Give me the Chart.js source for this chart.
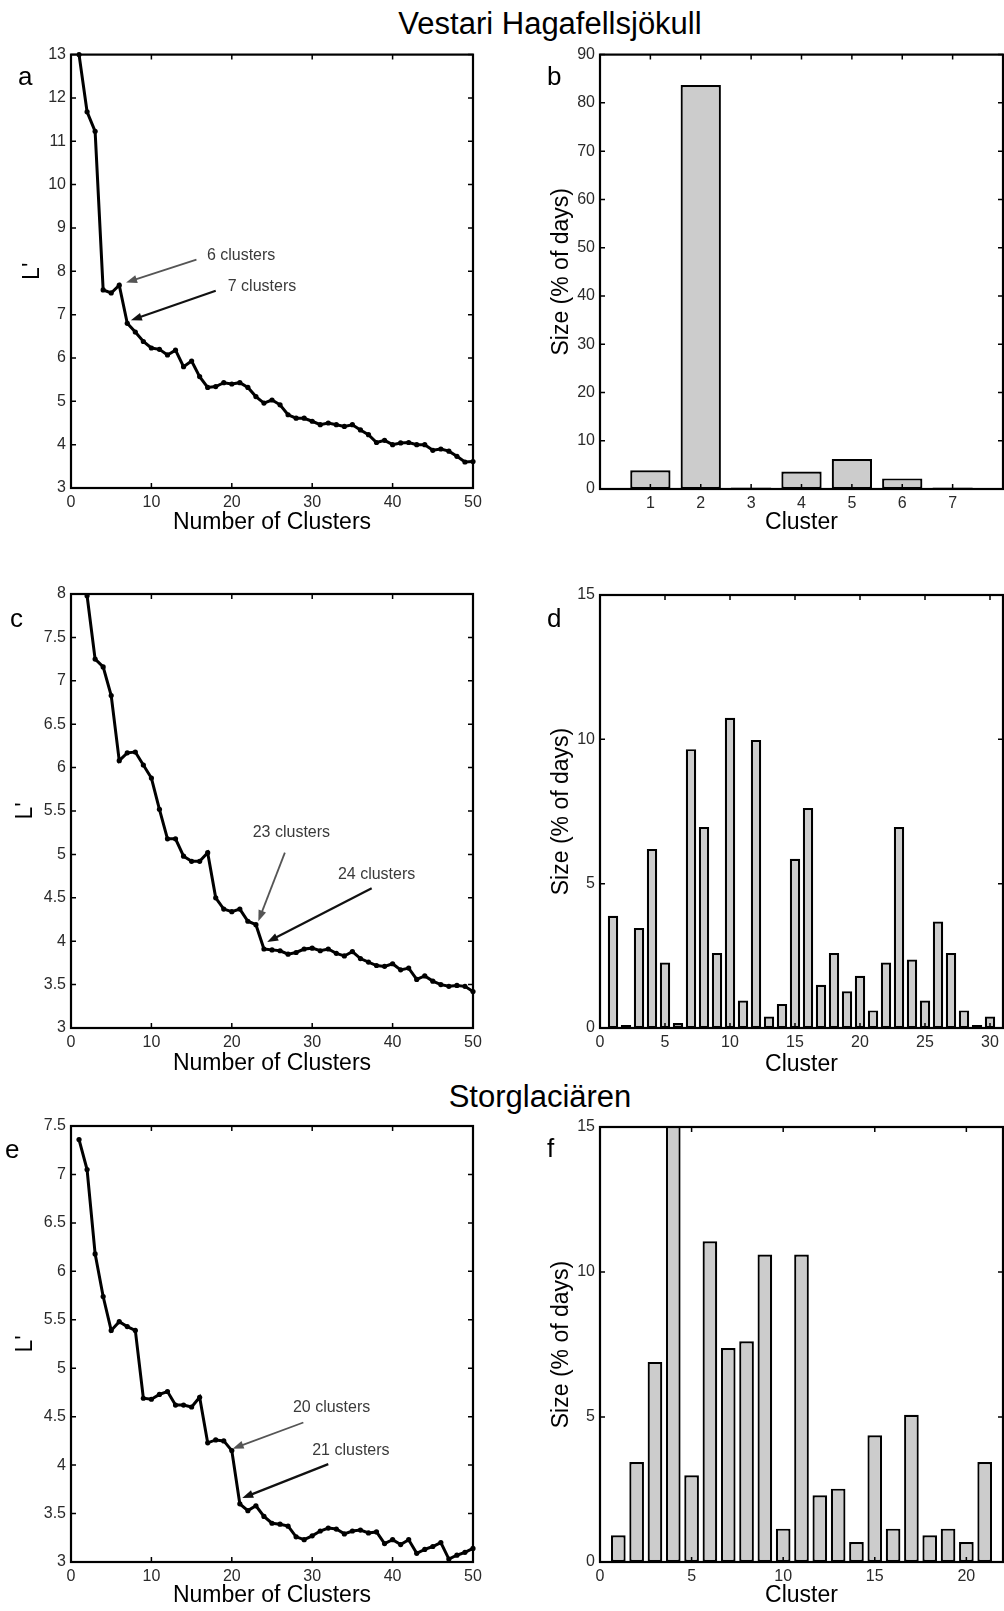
<!DOCTYPE html>
<html>
<head>
<meta charset="utf-8">
<script src="https://cdn.jsdelivr.net/npm/chart.js@4.4.1/dist/chart.umd.min.js"></script>
<style>
body { margin: 0; background: #fff; width: 1004px; height: 1611px; position: relative; overflow: hidden; font-family: "Liberation Sans", Arial, sans-serif; }
.titulo { position: absolute; font-size: 31px; color: #000; white-space: nowrap; line-height: 1; transform: translate(-50%, -50%); }
canvas { position: absolute; }
</style>
</head>
<body>
<div class="titulo" style="left:550px; top:23px">Vestari Hagafellsjökull</div>
<div class="titulo" style="left:540px; top:1096px">Storglaciären</div>
<canvas id="painel_a"></canvas>
<canvas id="painel_b"></canvas>
<canvas id="painel_c"></canvas>
<canvas id="painel_d"></canvas>
<canvas id="painel_e"></canvas>
<canvas id="painel_f"></canvas>
<script>
// numero de clusters (eixo x dos graficos de linha)
const numClusters = [1, 2, 3, 4, 5, 6, 7, 8, 9, 10, 11, 12, 13, 14, 15, 16, 17, 18, 19, 20,
    21, 22, 23, 24, 25, 26, 27, 28, 29, 30, 31, 32, 33, 34, 35, 36, 37, 38, 39, 40,
    41, 42, 43, 44, 45, 46, 47, 48, 49, 50];

// L' - Vestari Hagafellsjokull (a e c) e Storglaciaren (e)
const lPrimeA = [13.0, 11.68, 11.23, 7.57, 7.5, 7.68, 6.8, 6.6, 6.38, 6.23,
    6.2, 6.07, 6.18, 5.8, 5.93, 5.57, 5.32, 5.34, 5.43, 5.4,
    5.43, 5.32, 5.11, 4.96, 5.03, 4.92, 4.69, 4.61, 4.61, 4.54,
    4.46, 4.5, 4.46, 4.42, 4.46, 4.34, 4.23, 4.05, 4.1, 4.0,
    4.04, 4.05, 4.0, 4.0, 3.87, 3.9, 3.85, 3.73, 3.6, 3.61];
const lPrimeC = [null, 7.98, 7.25, 7.16, 6.83, 6.08, 6.17, 6.18, 6.03, 5.88,
    5.52, 5.18, 5.18, 4.98, 4.92, 4.92, 5.02, 4.5, 4.37, 4.34,
    4.37, 4.23, 4.19, 3.91, 3.9, 3.89, 3.85, 3.87, 3.91, 3.92,
    3.89, 3.91, 3.86, 3.83, 3.88, 3.8, 3.76, 3.72, 3.71, 3.74,
    3.67, 3.69, 3.56, 3.6, 3.54, 3.5, 3.48, 3.49, 3.48, 3.42];
const lPrimeE = [7.36, 7.05, 6.18, 5.74, 5.39, 5.48, 5.43, 5.39, 4.69, 4.68,
    4.73, 4.76, 4.62, 4.62, 4.6, 4.7, 4.23, 4.26, 4.25, 4.15,
    3.6, 3.53, 3.58, 3.47, 3.4, 3.39, 3.37, 3.26, 3.23, 3.27,
    3.32, 3.35, 3.34, 3.29, 3.32, 3.33, 3.3, 3.31, 3.19, 3.23,
    3.18, 3.23, 3.09, 3.13, 3.16, 3.2, 3.03, 3.07, 3.1, 3.14];

// tamanho dos clusters (% dos dias)
const clustersB = [1, 2, 3, 4, 5, 6, 7];
const tamanhoB = [3.9, 83.7, 0.3, 3.6, 6.2, 2.2, 0.3];
const clustersD = [1, 2, 3, 4, 5, 6, 7, 8, 9, 10, 11, 12, 13, 14, 15,
    16, 17, 18, 19, 20, 21, 22, 23, 24, 25, 26, 27, 28, 29, 30];
const tamanhoD = [3.89, 0.1, 3.46, 6.2, 2.27, 0.17, 9.66, 6.96, 2.6, 10.75, 0.95, 9.98, 0.4, 0.83, 5.86,
    7.62, 1.5, 2.6, 1.27, 1.81, 0.61, 2.27, 6.96, 2.37, 0.95, 3.69, 2.6, 0.61, 0.1, 0.4];
const clustersF = [1, 2, 3, 4, 5, 6, 7, 8, 9, 10, 11, 12, 13, 14, 15, 16, 17, 18, 19, 20, 21];
const tamanhoF = [0.92, 3.45, 6.9, 16, 2.99, 11.06, 7.38, 7.61, 10.6, 1.15, 10.6,
    2.3, 2.53, 0.69, 4.37, 1.15, 5.08, 0.92, 1.15, 0.69, 3.45];

const fonte = '"Liberation Sans", Arial, sans-serif';

// caixa com tiques para dentro, letra do painel e setas de anotacao
const moldura = {
    id: 'moldura',
    afterDatasetsDraw(chart) {
        const { ctx, chartArea: a, scales: { x, y } } = chart;
        const op = chart.options.plugins.moldura;
        ctx.save();
        ctx.strokeStyle = '#000';
        ctx.lineWidth = 1.5;
        ctx.beginPath();
        x.ticks.forEach(t => {
            const px = x.getPixelForValue(t.value);
            ctx.moveTo(px, a.bottom); ctx.lineTo(px, a.bottom - 5);
            ctx.moveTo(px, a.top); ctx.lineTo(px, a.top + 5);
        });
        y.ticks.forEach(t => {
            const py = y.getPixelForValue(t.value);
            ctx.moveTo(a.left, py); ctx.lineTo(a.left + 5, py);
            ctx.moveTo(a.right, py); ctx.lineTo(a.right - 5, py);
        });
        ctx.stroke();
        ctx.lineWidth = 2.2;
        ctx.strokeRect(a.left, a.top, a.right - a.left, a.bottom - a.top);

        // letra
        ctx.fillStyle = '#000';
        ctx.font = '26px ' + fonte;
        ctx.textBaseline = 'alphabetic';
        ctx.textAlign = 'left';
        ctx.fillText(op.letra, op.letraX, op.letraY);

        // setas
        (op.setas || []).forEach(s => {
            const x1 = x.getPixelForValue(s.de[0]), y1 = y.getPixelForValue(s.de[1]);
            const x2 = x.getPixelForValue(s.para[0]), y2 = y.getPixelForValue(s.para[1]);
            const ang = Math.atan2(y2 - y1, x2 - x1);
            ctx.strokeStyle = s.cor;
            ctx.fillStyle = s.cor;
            ctx.lineWidth = s.largura;
            ctx.beginPath();
            ctx.moveTo(x1, y1);
            ctx.lineTo(x2 - 6 * Math.cos(ang), y2 - 6 * Math.sin(ang));
            ctx.stroke();
            ctx.beginPath();
            ctx.moveTo(x2, y2);
            ctx.lineTo(x2 - 11 * Math.cos(ang) + 4 * Math.sin(ang), y2 - 11 * Math.sin(ang) - 4 * Math.cos(ang));
            ctx.lineTo(x2 - 11 * Math.cos(ang) - 4 * Math.sin(ang), y2 - 11 * Math.sin(ang) + 4 * Math.cos(ang));
            ctx.closePath();
            ctx.fill();
            ctx.fillStyle = '#3a3a3a';
            ctx.font = '16px ' + fonte;
            ctx.textBaseline = 'middle';
            ctx.fillText(s.texto, x.getPixelForValue(s.pos[0]), y.getPixelForValue(s.pos[1]));
        });
        ctx.restore();
    }
};

function montarPainel(id, caixa, area, tipo, datasets, eixoX, eixoY, extras) {
    const canvas = document.getElementById(id);
    canvas.width = caixa.w;
    canvas.height = caixa.h;
    canvas.style.left = caixa.x + 'px';
    canvas.style.top = caixa.y + 'px';

    const alturaTitulo = 23 * 1.2 / 2;
    const escalaBase = (cfg) => ({
        type: 'linear',
        min: cfg.min,
        max: cfg.max,
        offset: false,
        grid: { display: false, drawTicks: false },
        border: { display: false },
        ticks: {
            stepSize: cfg.passo,
            autoSkip: false,
            maxRotation: 0,
            padding: 5,
            color: '#2a2a2a',
            font: { family: fonte, size: 16 },
            callback: v => String(v)
        },
        afterBuildTicks: s => {
            if (cfg.tiques) s.ticks = cfg.tiques.map(v => ({ value: v }));
        },
        title: { display: true, text: cfg.titulo, color: '#000', font: { family: fonte, size: 23 } }
    });

    const x = escalaBase(eixoX);
    x.afterFit = s => { s.height = caixa.y + caixa.h - area.y1; };
    x.title.padding = { top: 0, bottom: caixa.y + caixa.h - eixoX.tituloY - alturaTitulo };

    const y = escalaBase(eixoY);
    y.afterFit = s => { s.width = area.x0 - caixa.x; };
    y.title.padding = { top: eixoY.tituloX - caixa.x - alturaTitulo, bottom: 0 };

    return new Chart(canvas, {
        type: tipo,
        data: { datasets: datasets },
        options: {
            responsive: false,
            animation: false,
            layout: { padding: { top: area.y0 - caixa.y, right: caixa.x + caixa.w - area.x1, left: 0, bottom: 0 } },
            scales: { x: x, y: y },
            plugins: {
                legend: { display: false },
                tooltip: { enabled: false },
                moldura: {
                    letra: extras.letra,
                    letraX: extras.letraX - caixa.x,
                    letraY: extras.letraY - caixa.y,
                    setas: extras.setas
                }
            }
        },
        plugins: [moldura]
    });
}

function serieLinha(xs, ys) {
    return [{
        data: xs.map((v, i) => ({ x: v, y: ys[i] })),
        borderColor: '#000',
        borderWidth: 3,
        pointRadius: 2.6,
        pointBackgroundColor: '#000',
        pointBorderWidth: 0,
        tension: 0,
        clip: false
    }];
}

function serieBarras(xs, ys) {
    return [{
        data: xs.map((v, i) => ({ x: v, y: ys[i] })),
        backgroundColor: '#cccccc',
        borderColor: '#000',
        borderWidth: 2.2,
        borderSkipped: false,
        barPercentage: 1,
        categoryPercentage: 0.8,
        clip: 0
    }];
}

const seta = (texto, pos, de, para, cor, largura) => ({ texto, pos, de, para, cor, largura });

// a
montarPainel('painel_a', { x: 0, y: 40, w: 500, h: 500 }, { x0: 71, y0: 54, x1: 473, y1: 488 }, 'line',
    serieLinha(numClusters, lPrimeA),
    { min: 0, max: 50, passo: 10, titulo: 'Number of Clusters', tituloY: 523 },
    { min: 3, max: 13, passo: 1, titulo: "L'", tituloX: 33 },
    { letra: 'a', letraX: 18, letraY: 85, setas: [
        seta('6 clusters', [16.9, 8.37], [15.6, 8.27], [6.85, 7.74], '#555', 1.8),
        seta('7 clusters', [19.5, 7.64], [18.0, 7.55], [7.45, 6.87], '#111', 2.2)
    ] });

// b
montarPainel('painel_b', { x: 500, y: 40, w: 504, h: 500 }, { x0: 600, y0: 53, x1: 1003, y1: 489 }, 'bar',
    serieBarras(clustersB, tamanhoB),
    { min: 0, max: 8, passo: 1, tiques: clustersB, titulo: 'Cluster', tituloY: 523 },
    { min: 0, max: 90, passo: 10, titulo: 'Size (% of days)', tituloX: 562 },
    { letra: 'b', letraX: 547, letraY: 85 });

// c
montarPainel('painel_c', { x: 0, y: 570, w: 500, h: 510 }, { x0: 71, y0: 594, x1: 473, y1: 1028 }, 'line',
    serieLinha(numClusters, lPrimeC),
    { min: 0, max: 50, passo: 10, titulo: 'Number of Clusters', tituloY: 1064 },
    { min: 3, max: 8, passo: 0.5, titulo: "L'", tituloX: 26 },
    { letra: 'c', letraX: 10, letraY: 627, setas: [
        seta('23 clusters', [22.6, 5.25], [26.6, 5.02], [23.3, 4.23], '#555', 1.8),
        seta('24 clusters', [33.2, 4.77], [37.4, 4.61], [24.4, 3.99], '#111', 2.2)
    ] });

// d
montarPainel('painel_d', { x: 500, y: 570, w: 504, h: 510 }, { x0: 600, y0: 595, x1: 1003, y1: 1028 }, 'bar',
    serieBarras(clustersD, tamanhoD),
    { min: 0, max: 31, passo: 5, tiques: [0, 5, 10, 15, 20, 25, 30], titulo: 'Cluster', tituloY: 1065 },
    { min: 0, max: 15, passo: 5, titulo: 'Size (% of days)', tituloX: 562 },
    { letra: 'd', letraX: 547, letraY: 627 });

// e
montarPainel('painel_e', { x: 0, y: 1100, w: 500, h: 511 }, { x0: 71, y0: 1126, x1: 473, y1: 1562 }, 'line',
    serieLinha(numClusters, lPrimeE),
    { min: 0, max: 50, passo: 10, titulo: 'Number of Clusters', tituloY: 1596 },
    { min: 3, max: 7.5, passo: 0.5, titulo: "L'", tituloX: 26 },
    { letra: 'e', letraX: 5, letraY: 1158, setas: [
        seta('20 clusters', [27.6, 4.59], [28.9, 4.44], [20.1, 4.17], '#555', 1.8),
        seta('21 clusters', [30.0, 4.15], [32.0, 4.01], [21.3, 3.66], '#111', 2.2)
    ] });

// f
montarPainel('painel_f', { x: 500, y: 1100, w: 504, h: 511 }, { x0: 600, y0: 1127, x1: 1003, y1: 1562 }, 'bar',
    serieBarras(clustersF, tamanhoF),
    { min: 0, max: 22, passo: 5, tiques: [0, 5, 10, 15, 20], titulo: 'Cluster', tituloY: 1596 },
    { min: 0, max: 15, passo: 5, titulo: 'Size (% of days)', tituloX: 562 },
    { letra: 'f', letraX: 547, letraY: 1157 });
</script>
</body>
</html>
